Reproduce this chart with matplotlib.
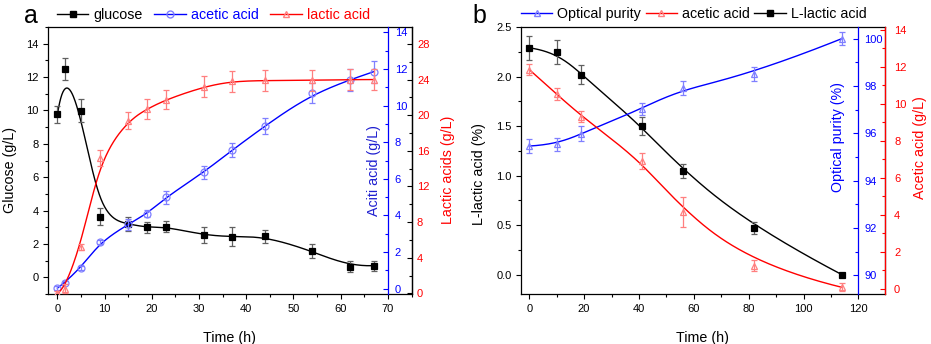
import numpy as np
import matplotlib
matplotlib.use("Agg")
import matplotlib.pyplot as plt
from matplotlib.ticker import MultipleLocator, FormatStrFormatter
from matplotlib.lines import Line2D

plt.rcParams['font.family'] = ['Liberation Sans', 'DejaVu Sans']

# ---------------- data: panel a ----------------
time_a = [0, 1.5, 5, 9, 15, 19, 23, 31, 37, 44, 54, 62, 67]
glucose = [9.76, 12.47, 9.98, 3.63, 3.19, 2.99, 3.03, 2.53, 2.43, 2.45, 1.58, 0.64, 0.70]
glucose_err = [0.5, 0.66, 0.7, 0.5, 0.4, 0.32, 0.32, 0.48, 0.56, 0.38, 0.4, 0.33, 0.3]
acetic_a = [0.03, 0.33, 1.14, 2.54, 3.52, 4.10, 5.00, 6.36, 7.57, 8.90, 10.68, 11.42, 11.86]
acetic_a_err = [0.1, 0.1, 0.1, 0.1, 0.3, 0.2, 0.35, 0.35, 0.4, 0.45, 0.55, 0.6, 0.6]
lactic_a = [0.0, 0.5, 5.2, 15.2, 19.4, 20.7, 21.75, 23.2, 23.8, 23.9, 23.9, 24.0, 24.0]
lactic_a_err = [0.3, 0.5, 0.3, 0.9, 1.0, 1.1, 1.1, 1.2, 1.2, 1.2, 1.2, 1.2, 1.2]

# ---------------- data: panel b ----------------
time_b = [0, 10, 19, 41, 56, 82, 114]
l_lactic = [2.29, 2.25, 2.02, 1.50, 1.045, 0.467, 0.0]
l_lactic_err = [0.12, 0.12, 0.1, 0.09, 0.07, 0.06, 0.0]
purity = [95.46, 95.53, 95.99, 97.03, 97.92, 98.52, 100.0]
purity_err = [0.3, 0.28, 0.3, 0.26, 0.3, 0.3, 0.28]
acetic_b = [11.84, 10.51, 9.29, 6.91, 4.15, 1.24, 0.07]
acetic_b_err = [0.3, 0.33, 0.3, 0.43, 0.8, 0.3, 0.22]


def bspline(x, y, n=400, k=3):
    P = np.column_stack([x, y]).astype(float)
    m = len(P)
    k = min(k, m - 1)
    inner = np.linspace(0, 1, m - k + 1)
    t = np.concatenate([np.zeros(k), inner, np.ones(k)])
    u = np.linspace(0, 1, n)
    N = np.zeros((n, len(t) - 1))
    for i in range(len(t) - 1):
        N[:, i] = ((u >= t[i]) & (u < t[i + 1])).astype(float)
    N[-1, :] = 0
    N[-1, m - 1] = 1
    for d in range(1, k + 1):
        Nn = np.zeros((n, len(t) - 1 - d))
        for i in range(len(t) - 1 - d):
            a = np.zeros(n)
            b = np.zeros(n)
            if t[i + d] - t[i] > 0:
                a = (u - t[i]) / (t[i + d] - t[i]) * N[:, i]
            if t[i + d + 1] - t[i + 1] > 0:
                b = (t[i + d + 1] - u) / (t[i + d + 1] - t[i + 1]) * N[:, i + 1]
            Nn[:, i] = a + b
        N = Nn
    C = N @ P
    return C[:, 0], C[:, 1]


BLUE = '#0000ff'
RED = '#ff0000'
LBLUE = '#7f7fff'
LRED = '#ff7f7f'
TICK_FS = 8
LAB_FS = 10.3
MS = 5
CAP = 2.2

fig = plt.figure(figsize=(9.31, 3.44), dpi=100)


def style_main(ax):
    ax.tick_params(axis='both', which='both', direction='out', labelsize=TICK_FS,
                   top=False, right=False, width=0.8, pad=3.4)
    ax.tick_params(which='major', length=3.5)
    ax.tick_params(which='minor', length=2)
    for s in ax.spines.values():
        s.set_linewidth(0.9)


def style_twin(ax, spine_pos, spine_color, tick_color, label_color, pad):
    for name in ['left', 'top', 'bottom']:
        ax.spines[name].set_visible(False)
    ax.spines['right'].set_position(spine_pos)
    ax.spines['right'].set_color(spine_color)
    ax.spines['right'].set_linewidth(0.9)
    ax.tick_params(axis='y', which='both', direction='in', labelsize=TICK_FS,
                   color=tick_color, labelcolor=label_color, width=0.8, pad=pad)
    ax.tick_params(axis='y', which='major', length=3.5)
    ax.tick_params(axis='y', which='minor', length=2)


def series(ax, x, y, e, marker, color, mcolor, ecolor, mfc):
    cx, cy = bspline(x, y)
    ax.plot(cx, cy, color=color, lw=1.0, zorder=2)
    ax.errorbar(x, y, yerr=e, fmt='none', ecolor=ecolor, elinewidth=0.9,
                capsize=CAP, capthick=0.9, zorder=3)
    ax.plot(x, y, linestyle='none', marker=marker, ms=MS, mec=mcolor,
            mfc=mfc, mew=0.9, zorder=4)


# ================= panel a =================
axa = fig.add_axes([48 / 931, 50 / 344, 364 / 931, 267 / 344])
axa.set_xlim(-2, 75.1)
axa.set_ylim(-1, 15)
axa.xaxis.set_major_locator(MultipleLocator(10))
axa.xaxis.set_minor_locator(MultipleLocator(5))
axa.yaxis.set_major_locator(MultipleLocator(2))
axa.yaxis.set_minor_locator(MultipleLocator(1))
style_main(axa)
series(axa, time_a, glucose, glucose_err, 's', 'black', 'black', '#606060', 'black')
axa.set_xlabel('Time (h)', fontsize=LAB_FS)
axa.xaxis.set_label_coords(0.5, -0.139)
axa.set_ylabel('Glucose (g/L)', fontsize=LAB_FS)
axa.yaxis.set_label_coords(-0.085, 0.464)

axa2 = axa.twinx()
axa2.set_ylim(-0.29, 14.3)
axa2.yaxis.set_major_locator(MultipleLocator(2))
axa2.yaxis.set_minor_locator(MultipleLocator(1))
style_twin(axa2, ('data', 70), BLUE, BLUE, BLUE, 5)
series(axa2, time_a, acetic_a, acetic_a_err, 'o', BLUE, LBLUE, LBLUE, 'none')
axa2.set_ylabel('Aciti acid (g/L)', fontsize=LAB_FS, color='#2020d0', rotation=90)
axa2.yaxis.set_label_coords(0.876, 0.464)

axa3 = axa.twinx()
axa3.set_ylim(-0.07, 29.9)
axa3.yaxis.set_major_locator(MultipleLocator(4))
axa3.yaxis.set_minor_locator(MultipleLocator(2))
style_twin(axa3, ('axes', 1.0), 'black', 'black', RED, 3.6)
series(axa3, time_a, lactic_a, lactic_a_err, '^', RED, LRED, LRED, 'none')
axa3.set_ylabel('Lactic acids (g/L)', fontsize=LAB_FS, color=RED, rotation=90)
axa3.yaxis.set_label_coords(1.080, 0.464)

handles_a = [
    Line2D([], [], color='black', marker='s', ms=MS, mfc='black', lw=1.0),
    Line2D([], [], color=BLUE, marker='o', ms=MS, mfc='none', mec=LBLUE, lw=1.0),
    Line2D([], [], color=RED, marker='^', ms=MS, mfc='none', mec=LRED, lw=1.0),
]
leg = axa.legend(handles_a, ['glucose', 'acetic acid', 'lactic acid'], ncol=3,
                 loc='center left', bbox_to_anchor=((57 - 48) / 364, 1.045),
                 frameon=False, fontsize=LAB_FS, handlelength=2.2,
                 handletextpad=0.35, columnspacing=0.8, borderpad=0,
                 borderaxespad=0)
for txt, c in zip(leg.get_texts(), ['black', BLUE, RED]):
    txt.set_color(c)
fig.text(24 / 931, 1 - 23 / 344, 'a', fontsize=18, ha='left', va='baseline')

# ================= panel b =================
axb = fig.add_axes([521 / 931, 50 / 344, 364 / 931, 267 / 344])
axb.set_xlim(-3, 129.7)
axb.set_ylim(-0.195, 2.5)
axb.xaxis.set_major_locator(MultipleLocator(20))
axb.xaxis.set_minor_locator(MultipleLocator(10))
axb.yaxis.set_major_locator(MultipleLocator(0.5))
axb.yaxis.set_minor_locator(MultipleLocator(0.25))
axb.yaxis.set_major_formatter(FormatStrFormatter('%.1f'))
style_main(axb)
series(axb, time_b, l_lactic, l_lactic_err, 's', 'black', 'black', '#606060', 'black')
axb.set_xlabel('Time (h)', fontsize=LAB_FS)
axb.xaxis.set_label_coords(0.5, -0.139)
axb.set_ylabel('L-lactic acid (%)', fontsize=LAB_FS)
axb.yaxis.set_label_coords(-0.096, 0.449)

axb2 = axb.twinx()
axb2.set_ylim(89.21, 100.49)
axb2.yaxis.set_major_locator(MultipleLocator(2))
axb2.yaxis.set_minor_locator(MultipleLocator(1))
style_twin(axb2, ('data', 120), BLUE, BLUE, BLUE, 4.3)
series(axb2, time_b, purity, purity_err, '^', BLUE, LBLUE, LBLUE, 'none')
axb2.set_ylabel('Optical purity (%)', fontsize=LAB_FS, color=BLUE, rotation=90)
axb2.yaxis.set_label_coords(0.852, 0.588)

axb3 = axb.twinx()
axb3.set_ylim(-0.29, 14.14)
axb3.yaxis.set_major_locator(MultipleLocator(2))
axb3.yaxis.set_minor_locator(MultipleLocator(1))
style_twin(axb3, ('axes', 1.0), RED, RED, RED, 6.5)
series(axb3, time_b, acetic_b, acetic_b_err, '^', RED, LRED, LRED, 'none')
axb3.set_ylabel('Acetic acid (g/L)', fontsize=LAB_FS, color=RED, rotation=90)
axb3.yaxis.set_label_coords(1.077, 0.55)

handles_b = [
    Line2D([], [], color=BLUE, marker='^', ms=MS, mfc='none', mec=LBLUE, lw=1.0),
    Line2D([], [], color=RED, marker='^', ms=MS, mfc='none', mec=LRED, lw=1.0),
    Line2D([], [], color='black', marker='s', ms=MS, mfc='black', lw=1.0),
]
axb.legend(handles_b, ['Optical purity', 'acetic acid', 'L-lactic acid'], ncol=3,
           loc='center left', bbox_to_anchor=(0.0, 1.05),
           frameon=False, fontsize=LAB_FS, handlelength=2.2,
           handletextpad=0.35, columnspacing=0.3, borderpad=0,
           borderaxespad=0)
fig.text(472 / 931, 1 - 23 / 344, 'b', fontsize=18, ha='left', va='baseline')

fig.savefig('out.png', dpi=100)
